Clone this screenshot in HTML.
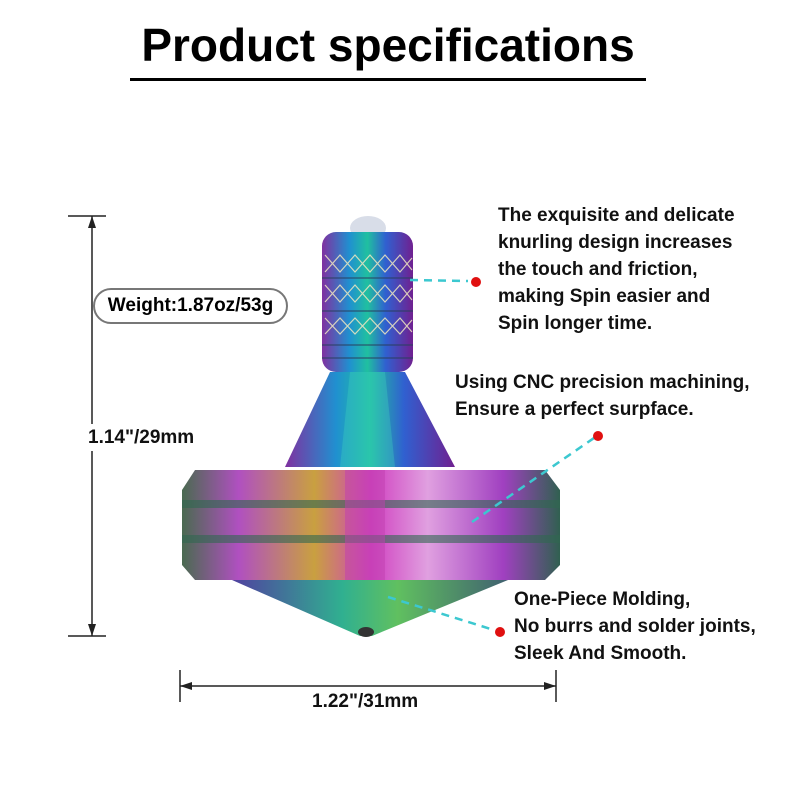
<!DOCTYPE html>
<html><head><meta charset="utf-8"><style>
body{margin:0;width:800px;height:800px;background:#fff;overflow:hidden;position:relative;font-family:"Liberation Sans","DejaVu Sans",sans-serif;}
.t{position:absolute;font-weight:bold;color:#111;font-size:19px;line-height:27px;white-space:nowrap}
</style></head><body>
<div style="position:absolute;left:0;width:776px;top:18px;text-align:center;font-size:46px;font-weight:bold;color:#000">Product specifications</div>
<div style="position:absolute;left:130px;top:78px;width:516px;height:3px;background:#000"></div>
<svg width="800" height="800" style="position:absolute;left:0;top:0">
<defs>
<linearGradient id="h" x1="0" x2="1">
<stop offset="0" stop-color="#4a6a50"/><stop offset=".15" stop-color="#b050c0"/><stop offset=".35" stop-color="#c9a040"/><stop offset=".5" stop-color="#d040c0"/><stop offset=".65" stop-color="#e0a0e0"/><stop offset=".85" stop-color="#a040c0"/><stop offset="1" stop-color="#306050"/></linearGradient>
<linearGradient id="s" x1="0" x2="1">
<stop offset="0" stop-color="#8030a0"/><stop offset=".3" stop-color="#2090d0"/><stop offset=".5" stop-color="#20c0a0"/><stop offset=".7" stop-color="#3060d0"/><stop offset="1" stop-color="#702090"/></linearGradient>
<linearGradient id="c" x1="0" x2="1">
<stop offset="0" stop-color="#5040a0"/><stop offset=".4" stop-color="#30b090"/><stop offset=".6" stop-color="#60c060"/><stop offset="1" stop-color="#406070"/></linearGradient>
</defs>
<line x1="92" y1="216" x2="92" y2="636" stroke="#222" stroke-width="1.5"/>
<line x1="68" y1="216" x2="106" y2="216" stroke="#222" stroke-width="1.5"/>
<line x1="68" y1="636" x2="106" y2="636" stroke="#222" stroke-width="1.5"/>
<polygon points="92,216 88,228 96,228" fill="#222"/><polygon points="92,636 88,624 96,624" fill="#222"/>
<line x1="180" y1="686" x2="556" y2="686" stroke="#222" stroke-width="1.5"/>
<line x1="180" y1="670" x2="180" y2="702" stroke="#222" stroke-width="1.5"/>
<line x1="556" y1="670" x2="556" y2="702" stroke="#222" stroke-width="1.5"/>
<polygon points="180,686 192,682 192,690" fill="#222"/><polygon points="556,686 544,682 544,690" fill="#222"/>
<ellipse cx="368" cy="228" rx="18" ry="12" fill="#d8dde8"/>
<rect x="322" y="232" width="91" height="140" rx="14" fill="url(#s)"/>
<g stroke="#f0e8c0" stroke-width="1.2" opacity=".85" fill="none">
<path d="M325 255 L340 272 L355 255 L370 272 L385 255 L400 272 L412 258 M325 272 L340 255 L355 272 L370 255 L385 272 L400 255 L412 270"/>
<path d="M325 285 L340 302 L355 285 L370 302 L385 285 L400 302 L412 288 M325 302 L340 285 L355 302 L370 285 L385 302 L400 285 L412 300"/>
<path d="M325 318 L340 334 L355 318 L370 334 L385 318 L400 334 L412 320 M325 334 L340 318 L355 334 L370 318 L385 334 L400 318 L412 332"/>
</g>
<g stroke="#2a4060" stroke-width="2" opacity=".5"><line x1="322" y1="278" x2="413" y2="278"/><line x1="322" y1="311" x2="413" y2="311"/><line x1="322" y1="345" x2="413" y2="345"/><line x1="322" y1="358" x2="413" y2="358"/></g>
<polygon points="330,372 405,372 455,467 285,467" fill="url(#s)"/>
<polygon points="350,372 385,372 395,467 340,467" fill="#40d0c0" opacity=".35"/>
<polygon points="232,580 508,580 372,636 360,636" fill="url(#c)"/>
<ellipse cx="366" cy="632" rx="8" ry="5" fill="#333"/>
<path d="M182 490 L195 470 L545 470 L560 490 L560 565 L545 580 L195 580 L182 565Z" fill="url(#h)"/>
<rect x="182" y="500" width="378" height="8" fill="#306850" opacity=".6"/>
<rect x="182" y="535" width="378" height="8" fill="#306850" opacity=".6"/>
<rect x="345" y="470" width="40" height="110" fill="#c040b0" opacity=".5"/>
<g stroke="#3cc8d0" stroke-width="2.5" stroke-dasharray="8,6" fill="none">
<line x1="410" y1="280" x2="468" y2="281"/>
<line x1="472" y1="522" x2="594" y2="438"/>
<line x1="388" y1="597" x2="494" y2="630"/>
</g>
<circle cx="476" cy="282" r="5" fill="#e01010"/>
<circle cx="598" cy="436" r="5" fill="#e01010"/>
<circle cx="500" cy="632" r="5" fill="#e01010"/>
</svg>
<div style="position:absolute;left:93px;top:288px;width:195px;height:36px;border:2px solid #777;border-radius:18px;box-sizing:border-box;font-weight:bold;font-size:19px;line-height:32px;text-align:center">Weight:1.87oz/53g</div>
<div class="t" style="left:88px;top:424px;background:#fff">1.14"/29mm</div>
<div class="t" style="left:312px;top:688px;background:#fff">1.22"/31mm</div>
<div class="t" style="left:498px;top:202px">The exquisite and delicate<br>knurling design increases<br>the touch and friction,<br>making Spin easier and<br>Spin longer time.</div>
<div class="t" style="left:455px;top:369px">Using CNC precision machining,<br>Ensure a perfect surpface.</div>
<div class="t" style="left:514px;top:586px">One-Piece Molding,<br>No burrs and solder joints,<br>Sleek And Smooth.</div>
</body></html>
